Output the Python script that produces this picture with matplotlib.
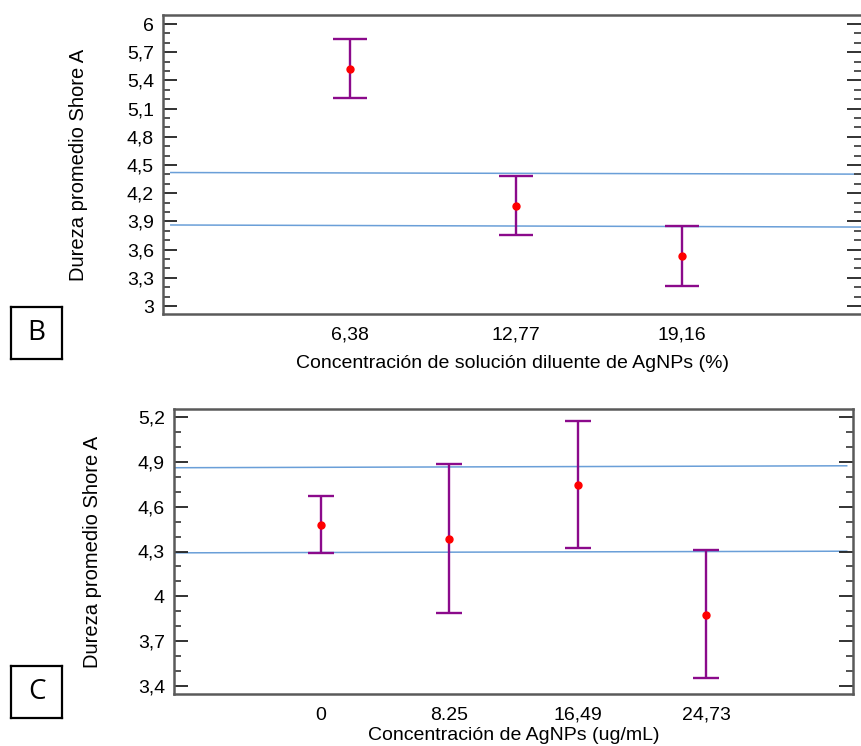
import matplotlib
matplotlib.use("Agg")
import matplotlib.pyplot as plt
from matplotlib.ticker import FixedLocator, MultipleLocator

plt.rcParams['font.family'] = ['Liberation Sans', 'DejaVu Sans']

# ---- Panel B data ----
b_categories = ["6,38", "12,77", "19,16"]
b_means = [5.52, 4.06, 3.53]
b_upper = [5.844, 4.386, 3.851]
b_lower = [5.213, 3.752, 3.216]
b_yticks = [3, 3.3, 3.6, 3.9, 4.2, 4.5, 4.8, 5.1, 5.4, 5.7, 6]
b_yticklabels = ["3", "3,3", "3,6", "3,9", "4,2", "4,5", "4,8", "5,1", "5,4", "5,7", "6"]
b_ref_upper = [4.42, 4.403]   # left, right
b_ref_lower = [3.862, 3.84]
b_xlabel = "Concentración de solución diluente de AgNPs (%)"

# ---- Panel C data ----
c_categories = ["0", "8.25", "16,49", "24,73"]
c_means = [4.474, 4.384, 4.741, 3.874]
c_upper = [4.668, 4.886, 5.171, 4.309]
c_lower = [4.291, 3.892, 4.322, 3.455]
c_yticks = [3.4, 3.7, 4.0, 4.3, 4.6, 4.9, 5.2]
c_yticklabels = ["3,4", "3,7", "4", "4,3", "4,6", "4,9", "5,2"]
c_ref_upper = [4.859, 4.872]
c_ref_lower = [4.291, 4.302]
c_xlabel = "Concentración de AgNPs (ug/mL)"

ylabel = "Dureza promedio Shore A"

PURPLE = "#8b0a8b"
RED = "#ff0000"
BLUE = "#6a9fd8"
SPINE = "#5a5a5a"

fig = plt.figure(figsize=(8.61, 7.46), dpi=100)

def draw_panel(ax, cats, means, up, lo, yticks, yticklabels, ref_u, ref_l,
               xlim, ylim, capsize, xlabel, line_x, xlabelpad, ylabelpad,
               right_spine=True):
    x = list(range(1, len(cats) + 1))
    ax.set_xlim(*xlim)
    ax.set_ylim(*ylim)
    ax.plot(line_x, ref_u, color=BLUE, lw=1.1, zorder=1)
    ax.plot(line_x, ref_l, color=BLUE, lw=1.1, zorder=1)
    yerr = [[m - l for m, l in zip(means, lo)], [u - m for m, u in zip(means, up)]]
    ax.errorbar(x, means, yerr=yerr, fmt='none', ecolor=PURPLE, elinewidth=1.7,
                capsize=capsize, capthick=1.7, zorder=2)
    ax.plot(x, means, 'o', color=RED, ms=5, zorder=3)
    ax.set_xticks(x)
    ax.set_xticklabels(cats, fontsize=14)
    ax.yaxis.set_major_locator(FixedLocator(yticks))
    ax.set_yticklabels(yticklabels, fontsize=14)
    ax.yaxis.set_minor_locator(MultipleLocator(0.1))
    ax.tick_params(axis='y', which='major', direction='in', length=10, width=1.3,
                   color='#222222', right=True, pad=6.5)
    ax.tick_params(axis='y', which='minor', direction='in', length=5, width=1.3,
                   color='#444444', right=True)
    ax.tick_params(axis='x', length=0, pad=9)
    for s in ax.spines.values():
        s.set_color(SPINE)
        s.set_linewidth(1.8)
    if not right_spine:
        ax.spines['right'].set_visible(False)
    ax.set_xlabel(xlabel, fontsize=14, labelpad=xlabelpad)
    ax.set_ylabel(ylabel, fontsize=14.5, labelpad=ylabelpad)

# Panel B
axB = fig.add_axes([163/861, 1 - 314/746, (861 - 163)/861, (314 - 15)/746])
draw_panel(axB, b_categories, b_means, b_upper, b_lower, b_yticks, b_yticklabels,
           b_ref_upper, b_ref_lower, (-0.127, 4.078), (2.915, 6.096), 12, b_xlabel,
           [-0.08, 4.078], 8.5, 28, right_spine=False)

# Panel C
axC = fig.add_axes([174/861, 1 - 694/746, (853 - 174)/861, (694 - 409)/746])
draw_panel(axC, c_categories, c_means, c_upper, c_lower, c_yticks, c_yticklabels,
           c_ref_upper, c_ref_lower, (-0.142, 5.144), (3.349, 5.251), 9.5, c_xlabel,
           [-0.142, 5.095], 2.5, 26)

# Panel letters
for letter, (x0, y0, x1, y1) in [("B", (11, 307, 62, 359)), ("C", (11, 666, 62, 718))]:
    bx = fig.add_axes([x0/861, 1 - y1/746, (x1 - x0)/861, (y1 - y0)/746])
    bx.set_xticks([]); bx.set_yticks([])
    for s in bx.spines.values():
        s.set_linewidth(1.6)
        s.set_color('black')
    bx.text(0.5, 0.5, letter, ha='center', va='center', fontsize=20,
            family=['Open Sans', 'DejaVu Sans'], transform=bx.transAxes)

fig.savefig("out.png", dpi=100)
